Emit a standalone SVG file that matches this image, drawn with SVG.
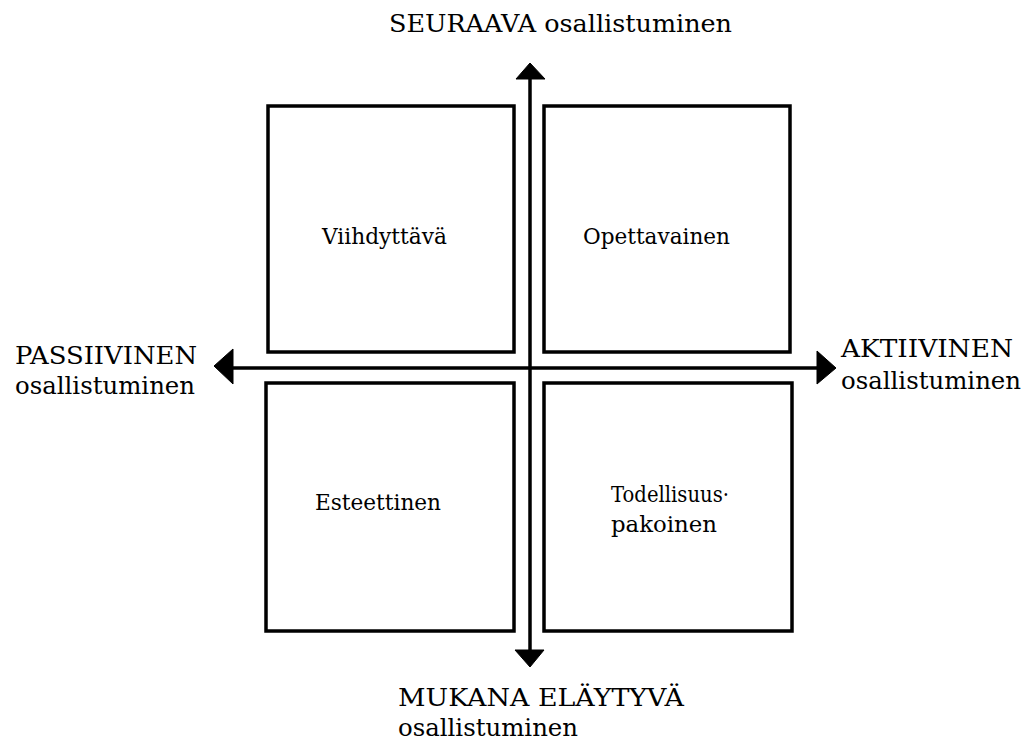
<svg xmlns="http://www.w3.org/2000/svg" width="1031" height="742" viewBox="0 0 1031 742">
<style>
.box{fill:none;stroke:#000;stroke-width:3.5}
.ax{stroke:#000;stroke-width:3.5;fill:none}
.hd{fill:#000;stroke:#000;stroke-width:1;stroke-linejoin:round}
text{font-family:"DejaVu Serif","Liberation Serif",serif;fill:#000}
.lb{font-size:22px}
.lb2{font-size:21.5px}
.al{font-size:24px}
</style>
<rect width="1031" height="742" fill="#fff"/>
<g id="connectors">
<line class="ax" x1="530" y1="75" x2="530" y2="655"/>
<line class="ax" x1="228" y1="368" x2="822" y2="368"/>
<polygon class="hd" points="530,63 545,79 516,79"/>
<polygon class="hd" points="530,667 544,650 515,650"/>
<polygon class="hd" points="214,366 233,349 233,384"/>
<polygon class="hd" points="836,368 817,351 817,384"/>
</g>
<g id="viihdyttava">
<rect class="box" x="268" y="106" width="246" height="246"/>
<text class="lb" x="322" y="244" textLength="125" lengthAdjust="spacingAndGlyphs">Viihdyttävä</text>
</g>
<g id="opettavainen">
<rect class="box" x="544" y="106" width="246" height="246"/>
<text class="lb" x="583" y="244" textLength="147" lengthAdjust="spacingAndGlyphs">Opettavainen</text>
</g>
<g id="esteettinen">
<rect class="box" x="266" y="383" width="248" height="248"/>
<text class="lb" x="315" y="510" textLength="126" lengthAdjust="spacingAndGlyphs">Esteettinen</text>
</g>
<g id="todellisuuspakoinen">
<rect class="box" x="544" y="383" width="248" height="248"/>
<text class="lb2" x="611" y="502" textLength="118" lengthAdjust="spacingAndGlyphs">Todellisuus·</text>
<text class="lb2" x="611" y="532" textLength="106" lengthAdjust="spacingAndGlyphs">pakoinen</text>
</g>
<g id="seuraava">
<text class="al" x="389" y="32" textLength="343" lengthAdjust="spacingAndGlyphs">SEURAAVA osallistuminen</text>
</g>
<g id="passiivinen">
<text class="al" x="15" y="364" textLength="182" lengthAdjust="spacingAndGlyphs">PASSIIVINEN</text>
<text class="al" x="15" y="394" textLength="180" lengthAdjust="spacingAndGlyphs">osallistuminen</text>
</g>
<g id="aktiivinen">
<text class="al" x="841" y="357" textLength="172" lengthAdjust="spacingAndGlyphs">AKTIIVINEN</text>
<text class="al" x="841" y="389" textLength="180" lengthAdjust="spacingAndGlyphs">osallistuminen</text>
</g>
<g id="mukana">
<text class="al" x="398" y="706" textLength="286" lengthAdjust="spacingAndGlyphs">MUKANA ELÄYTYVÄ</text>
<text class="al" x="398" y="736" textLength="180" lengthAdjust="spacingAndGlyphs">osallistuminen</text>
</g>
</svg>
